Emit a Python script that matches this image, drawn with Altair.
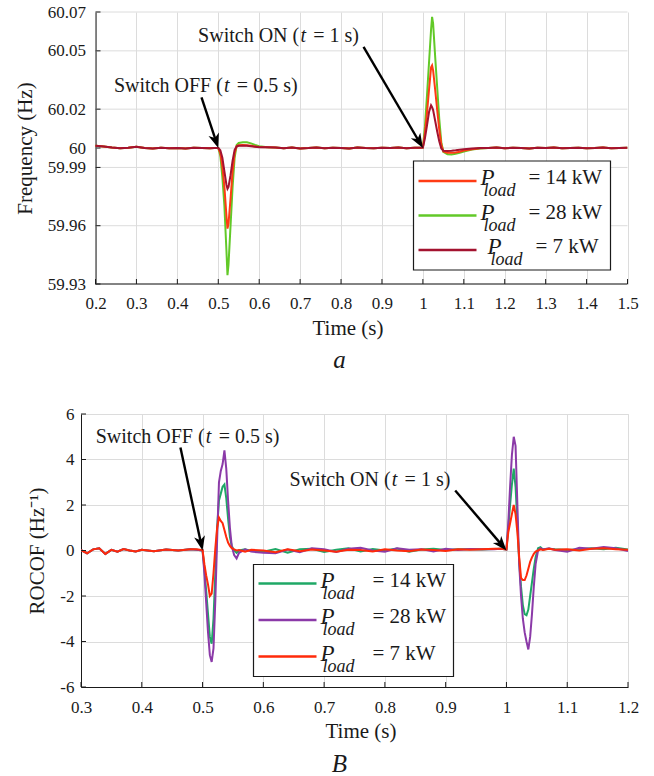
import math
import altair as alt
import pandas as pd

FONT = "Liberation Serif"
INK = "#1a1a1a"
GRID = "#dcdcdc"

# ---------------- panel a : frequency (Hz) ----------------
a_xticks = [0.2, 0.3, 0.4, 0.5, 0.6, 0.7, 0.8, 0.9, 1.0, 1.1, 1.2, 1.3, 1.4, 1.5]
a_yticks = [59.93, 59.96, 59.99, 60.0, 60.02, 60.05, 60.07]
a_loads = [14, 28, 7]
a_colors = ["#ff3b14", "#62c928", "#a3122f"]
a_draw_order = [28, 14, 7]

a_t_pre = [0.20, 0.22, 0.24, 0.26, 0.28, 0.30, 0.32, 0.34, 0.36, 0.38, 0.40, 0.42, 0.44, 0.46, 0.48]
a_f_pre = [60.0012, 60.0008, 60.0002, 59.9999, 60.0001, 60.0006, 60.0000, 59.9998, 60.0001, 59.9999,
           60.0000, 59.9998, 60.0001, 60.0000, 59.9999]
a_t_off = [0.49, 0.50, 0.505, 0.51, 0.515, 0.52, 0.5225, 0.525, 0.53, 0.535, 0.54, 0.545, 0.55, 0.56,
           0.57, 0.58, 0.59, 0.60]
a_f14_off = [60.0000, 60.0000, 59.9975, 59.9905, 59.9800, 59.9650, 59.9585, 59.9610, 59.9740, 59.9880,
             59.9975, 60.0010, 60.0014, 60.0015, 60.0014, 60.0011, 60.0008, 60.0005]
a_f28_off = [60.0000, 60.0000, 59.9960, 59.9850, 59.9700, 59.9470, 59.9345, 59.9400, 59.9600, 59.9800,
             59.9950, 60.0015, 60.0026, 60.0030, 60.0029, 60.0024, 60.0016, 60.0009]
a_f7_off = [60.0000, 60.0000, 59.9988, 59.9950, 59.9880, 59.9810, 59.9790, 59.9800, 59.9860, 59.9935,
            59.9990, 60.0008, 60.0011, 60.0012, 60.0011, 60.0009, 60.0007, 60.0004]
a_t_mid = [0.62, 0.64, 0.66, 0.68, 0.70, 0.72, 0.74, 0.76, 0.78, 0.80, 0.82, 0.84, 0.86, 0.88, 0.90,
           0.92, 0.94, 0.96, 0.98]
a_f_mid = [60.0004, 60.0002, 59.9999, 60.0002, 59.9998, 60.0000, 60.0003, 59.9999, 60.0001, 60.0000,
           59.9998, 60.0002, 60.0000, 59.9999, 60.0001, 60.0000, 60.0002, 59.9999, 60.0001]
a_t_on = [0.99, 1.00, 1.005, 1.01, 1.015, 1.02, 1.0225, 1.025, 1.03, 1.035, 1.04, 1.045, 1.05, 1.06,
          1.07, 1.08, 1.09, 1.10, 1.12, 1.14]
a_f14_on = [60.0001, 60.0002, 60.0075, 60.0180, 60.0300, 60.0415, 60.0425, 60.0400, 60.0300, 60.0195,
            60.0095, 60.0018, 59.9982, 59.9975, 59.9975, 59.9977, 59.9981, 59.9987, 59.9994, 59.9999]
a_f28_on = [60.0001, 60.0002, 60.0110, 60.0270, 60.0440, 60.0610, 60.0675, 60.0640, 60.0470, 60.0310,
            60.0150, 60.0030, 59.9980, 59.9968, 59.9967, 59.9970, 59.9975, 59.9982, 59.9992, 59.9998]
a_f7_on = [60.0001, 60.0002, 60.0050, 60.0115, 60.0185, 60.0220, 60.0210, 60.0195, 60.0140, 60.0085,
           60.0035, 59.9998, 59.9986, 59.9985, 59.9986, 59.9988, 59.9991, 59.9994, 59.9997, 60.0000]
a_t_post = [1.16, 1.18, 1.20, 1.22, 1.24, 1.26, 1.28, 1.30, 1.32, 1.34, 1.36, 1.38, 1.40, 1.42, 1.44,
            1.46, 1.48, 1.50]
a_f_post = [60.0000, 60.0002, 59.9999, 60.0001, 60.0000, 59.9998, 60.0001, 60.0000, 60.0002, 59.9999,
            60.0000, 60.0001, 59.9999, 60.0000, 60.0002, 59.9999, 60.0000, 60.0001]

# annotations (data coords): arrow start, arrow tip, label anchor (italic t)
a_arrow_x = [0.459, 0.855]
a_arrow_y = [60.026, 60.052]
a_tip_x = [0.5, 1.0]
a_tip_y = [60.0, 60.0]
a_ann_x = [0.521, 0.7075]
a_ann_y = [60.032, 60.0576]
a_ann_pre = ["Switch OFF (", "Switch ON ("]
a_ann_post = ["= 0.5 s)", "= 1 s)"]

# ---------------- panel B : ROCOF ----------------
b_xticks = [0.3, 0.4, 0.5, 0.6, 0.7, 0.8, 0.9, 1.0, 1.1, 1.2]
b_yticks = [-6, -4, -2, 0, 2, 4, 6]
b_loads = [14, 28, 7]
b_colors = ["#1fa866", "#8b3aa8", "#ff2a0a"]
b_draw_order = [14, 28, 7]

b_t_pre = [0.30, 0.31, 0.32, 0.33, 0.34, 0.35, 0.36, 0.37, 0.38, 0.39, 0.40, 0.42, 0.44, 0.46, 0.48]
b_r_pre = [0.02, -0.12, 0.05, 0.10, -0.15, 0.03, -0.05, 0.06, 0.00, -0.04, 0.03, -0.03, 0.04, 0.00, 0.05]
b_t_off = [0.49, 0.50, 0.503, 0.506, 0.509, 0.512, 0.515, 0.518, 0.521, 0.524, 0.527, 0.530, 0.533,
           0.536, 0.539, 0.542, 0.545, 0.548, 0.552, 0.556, 0.56, 0.57, 0.58]
b_r7_off = [0.05, 0.02, -0.6, -1.1, -1.5, -2.0, -1.9, -1.0, 0.1, 1.0, 1.45, 1.3, 1.2, 0.9, 0.6, 0.35,
            0.2, 0.1, 0.05, 0.0, 0.02, -0.05, 0.03]
b_r14_off = [0.03, 0.0, -0.8, -1.8, -2.8, -3.8, -4.1, -3.0, -1.0, 1.0, 2.2, 2.5, 2.8, 2.9, 2.3, 1.4,
             0.6, 0.2, 0.0, -0.1, 0.0, 0.05, -0.02]
b_r28_off = [0.03, 0.0, -1.0, -2.3, -3.6, -4.6, -4.9, -4.3, -2.2, 0.5, 3.0, 3.5, 3.8, 4.4, 3.6, 2.2,
             1.0, 0.2, -0.2, -0.35, -0.1, 0.05, -0.05]
b_t_mid = [0.60, 0.62, 0.64, 0.66, 0.68, 0.70, 0.72, 0.74, 0.76, 0.78, 0.80, 0.82, 0.84, 0.86, 0.88,
           0.90, 0.92, 0.94, 0.96, 0.98]
b_r7_mid = [0.0, -0.08, 0.05, -0.03, 0.04, 0.0, -0.05, 0.03, 0.02, -0.04, 0.05, 0.0, -0.03, 0.04, 0.02,
            -0.02, 0.05, 0.03, 0.06, 0.08]
b_r14_mid = [-0.05, 0.06, -0.10, 0.05, 0.08, -0.06, 0.03, 0.10, -0.04, 0.07, 0.0, 0.09, -0.05, 0.04,
             0.08, 0.02, 0.06, 0.05, 0.04, 0.07]
b_r28_mid = [-0.10, -0.12, 0.04, -0.08, 0.10, 0.05, -0.06, 0.08, 0.12, 0.0, -0.05, 0.10, 0.03, 0.06,
             -0.04, 0.08, 0.02, 0.07, 0.05, 0.06]
b_t_on = [0.99, 1.00, 1.003, 1.006, 1.009, 1.012, 1.015, 1.018, 1.021, 1.024, 1.027, 1.030, 1.033,
          1.036, 1.039, 1.042, 1.045, 1.048, 1.052, 1.056, 1.06, 1.07, 1.08]
b_r7_on = [0.08, 0.05, 0.8, 1.2, 1.6, 2.0, 1.6, 0.8, -0.3, -1.2, -1.3, -1.3, -1.1, -0.8, -0.5, -0.3,
           -0.15, -0.05, 0.0, 0.05, 0.02, 0.08, 0.03]
b_r14_on = [0.08, 0.05, 1.0, 2.0, 2.9, 3.6, 2.8, 1.2, -0.5, -1.6, -2.4, -2.8, -2.85, -2.6, -2.0, -1.4,
            -0.8, -0.3, 0.1, 0.15, 0.05, 0.08, 0.05]
b_r28_on = [0.08, 0.05, 1.2, 2.8, 4.2, 5.0, 4.6, 2.0, -0.6, -2.0, -3.0, -3.6, -4.0, -4.35, -3.8, -2.8,
            -1.6, -0.6, 0.0, 0.1, 0.05, 0.10, 0.02]
b_t_post = [1.10, 1.12, 1.14, 1.16, 1.18, 1.20]
b_r7_post = [0.05, 0.0, 0.08, 0.10, 0.06, 0.03]
b_r14_post = [0.02, 0.06, 0.10, 0.05, 0.12, 0.04]
b_r28_post = [-0.05, 0.12, 0.08, 0.15, 0.10, -0.02]

b_arrow_x = [0.4636, 0.9157]
b_arrow_y = [4.53, 2.64]
b_tip_x = [0.5, 1.0]
b_tip_y = [0.0, 0.0]
b_ann_x = [0.510, 0.816]
b_ann_y = [5.01, 3.12]
b_ann_pre = ["Switch OFF (", "Switch ON ("]
b_ann_post = ["= 0.5 s)", "= 1 s)"]

# ---------------- tables ----------------
def table(parts):
    rows = []
    for load, segs in parts.items():
        for ts, vs in segs:
            for t, v in zip(ts, vs):
                rows.append({"t": t, "v": v, "load": load})
    return pd.DataFrame(rows)

df_a = table({
    14: [(a_t_pre, a_f_pre), (a_t_off, a_f14_off), (a_t_mid, a_f_mid), (a_t_on, a_f14_on), (a_t_post, a_f_post)],
    28: [(a_t_pre, a_f_pre), (a_t_off, a_f28_off), (a_t_mid, a_f_mid), (a_t_on, a_f28_on), (a_t_post, a_f_post)],
    7: [(a_t_pre, a_f_pre), (a_t_off, a_f7_off), (a_t_mid, a_f_mid), (a_t_on, a_f7_on), (a_t_post, a_f_post)],
})
df_b = table({
    14: [(b_t_pre, b_r_pre), (b_t_off, b_r14_off), (b_t_mid, b_r14_mid), (b_t_on, b_r14_on), (b_t_post, b_r14_post)],
    28: [(b_t_pre, b_r_pre), (b_t_off, b_r28_off), (b_t_mid, b_r28_mid), (b_t_on, b_r28_on), (b_t_post, b_r28_post)],
    7: [(b_t_pre, b_r_pre), (b_t_off, b_r7_off), (b_t_mid, b_r7_mid), (b_t_on, b_r7_on), (b_t_post, b_r7_post)],
})

one = pd.DataFrame({"k": [0]})


def txt(s, x, y, size, italic=False, align="left"):
    return alt.Chart(one).mark_text(
        text=s, font=FONT, fontSize=size, fontStyle="italic" if italic else "normal",
        align=align, baseline="middle", color=INK,
    ).encode(x=alt.value(x), y=alt.value(y))


def panel(P):
    off = P["off"]            # extra room left of the visible plot (px)
    Wv, H = P["Wv"], P["H"]
    W = Wv + off
    d0 = P["x0"] - off / Wv * (P["x1"] - P["x0"])
    xs = alt.Scale(domain=[d0, P["x1"]], nice=False, zero=False)
    ys = alt.Scale(domain=[P["y0"], P["y1"]], nice=False, zero=False)
    fake = off > 0
    xaxis = alt.Axis(
        values=P["xticks"], labelExpr="'' + datum.value", title="Time (s)", grid=True,
        gridColor=GRID, gridWidth=1, ticks=False, labelPadding=P["xlabpad"], labelOverlap=False,
        labelFlush=False, labelFont=FONT, labelFontSize=17, labelColor=INK, titleFont=FONT,
        titleFontSize=21, titleFontWeight="normal", titleColor=INK, titleX=P["xtitle_x"] + off,
        titleY=44, titleBaseline="middle", titleAlign="center", domain=not fake,
        domainColor=INK, domainWidth=1,
    )
    yaxis = alt.Axis(
        values=P["yticks"], labelExpr="'' + datum.value", title=P["ytitle"], grid=not fake,
        gridColor=GRID, gridWidth=1, ticks=False, labelPadding=P["ylabpad"], labelOverlap=False,
        labelFlush=False, labelFont=FONT, labelFontSize=17, labelColor=INK, titleFont=FONT,
        titleFontSize=21, titleFontWeight="normal", titleColor=INK, titleX=P["ytitle_x"],
        titleY=H / 2, titleAngle=270, titleBaseline="middle", titleAlign="center",
        domainColor=INK, domainWidth=1, offset=-off,
    )

    def X(field):
        return alt.X(field, scale=xs, axis=xaxis)

    def Y(field):
        return alt.Y(field, scale=ys, axis=yaxis)

    def to_px(t, v):
        return ((t - d0) / (P["x1"] - d0) * W, (P["y1"] - v) / (P["y1"] - P["y0"]) * H)

    def to_data(px, py):
        return (d0 + px / W * (P["x1"] - d0), P["y1"] - py / H * (P["y1"] - P["y0"]))

    layers = []
    if fake:
        gdf = pd.DataFrame({"v": P["yticks"]})
        gdf["a"] = P["x0"]
        gdf["b"] = P["x1"]
        layers.append(alt.Chart(gdf).mark_rule(color=GRID, strokeWidth=1)
                      .encode(x=X("a:Q"), x2="b:Q", y=Y("v:Q")))
        ddf = pd.DataFrame({"a": [P["x0"]], "b": [P["x1"]], "v": [P["y0"]]})
        layers.append(alt.Chart(ddf).mark_rule(color=INK, strokeWidth=1)
                      .encode(x=X("a:Q"), x2="b:Q", y=Y("v:Q")))

    df = P["df"]
    color_of = dict(zip(P["loads"], P["colors"]))
    for load in P["order"]:
        layers.append(
            alt.Chart(df[df["load"] == load]).mark_line(color=color_of[load], strokeWidth=2, clip=True)
            .encode(x=X("t:Q"), y=Y("v:Q"))
        )
    # inward tick marks
    layers.append(
        alt.Chart(pd.DataFrame({"t": P["xticks"]})).mark_rule(color=INK, strokeWidth=1)
        .encode(x=X("t:Q"), y=alt.value(H), y2=alt.value(H - 5))
    )
    layers.append(
        alt.Chart(pd.DataFrame({"v": P["yticks"]})).mark_rule(color=INK, strokeWidth=1)
        .encode(y=Y("v:Q"), x=alt.value(off), x2=alt.value(off + 5))
    )

    # arrows
    rows = []
    for xs0, ys0, xt, yt in zip(P["arrow_x"], P["arrow_y"], P["tip_x"], P["tip_y"]):
        sx, sy = to_px(xs0, ys0)
        tx, ty = to_px(xt, yt)
        L = math.hypot(tx - sx, ty - sy)
        ux, uy = (tx - sx) / L, (ty - sy) / L
        ex, ey = to_data(tx - ux * 9, ty - uy * 9)
        ang = math.degrees(math.atan2(ux, -uy)) % 360
        rows.append({"t": xs0, "v": ys0, "ex": ex, "ey": ey, "tx": xt, "ty": yt, "ang": ang})
    adf = pd.DataFrame(rows)
    layers.append(
        alt.Chart(adf).mark_rule(color="black", strokeWidth=2.4)
        .encode(x=X("t:Q"), y=Y("v:Q"), x2="ex:Q", y2="ey:Q")
    )
    layers.append(
        alt.Chart(adf).mark_point(shape="M0,0 L0.55,1.45 L0,1.05 L-0.55,1.45 Z", filled=True,
                                  color="black", opacity=1, size=400, strokeWidth=0)
        .encode(x=X("tx:Q"), y=Y("ty:Q"), angle=alt.Angle("ang:Q", scale=None))
    )
    # annotation texts
    ndf = pd.DataFrame({"t": P["ann_x"], "v": P["ann_y"], "pre": P["ann_pre"], "post": P["ann_post"]})
    base = alt.Chart(ndf).encode(x=X("t:Q"), y=Y("v:Q"))
    layers.append(base.mark_text(font=FONT, fontSize=20, align="right", baseline="middle", dx=-4,
                                 color=INK).encode(text="pre:N"))
    layers.append(base.mark_text(font=FONT, fontSize=20, fontStyle="italic", align="center",
                                 baseline="middle", color=INK, text="t"))
    layers.append(base.mark_text(font=FONT, fontSize=20, align="left", baseline="middle", dx=10,
                                 color=INK).encode(text="post:N"))

    # legend
    lg = P["legend"]
    layers.append(
        alt.Chart(one).mark_rect(fill="white", stroke=INK, strokeWidth=1.2)
        .encode(x=alt.value(lg["box"][0] + off), x2=alt.value(lg["box"][1] + off),
                y=alt.value(lg["box"][2]), y2=alt.value(lg["box"][3]))
    )
    for i, load in enumerate(P["loads"]):
        y = lg["y0"] + i * lg["dy"]
        s = lg["shift"][i] + off
        layers.append(
            alt.Chart(one).mark_rule(color=P["colors"][i], strokeWidth=2.5)
            .encode(x=alt.value(lg["line"][0] + off), x2=alt.value(lg["line"][1] + off), y=alt.value(y))
        )
        layers.append(txt("P", lg["px"] + s, y - 3, 23, italic=True))
        layers.append(txt("load", lg["lx"] + s, y + 10, 18, italic=True))
        layers.append(txt("= %d kW" % load, lg["ex"] + s, y - 3, 21))

    # caption
    layers.append(txt(P["caption"], P["cap_x"] + off, P["cap_y"], 25, italic=True, align="center"))
    # layout bound helper (invisible)
    by0, by1 = P["bound"]
    layers.append(
        alt.Chart(one).mark_rule(opacity=0, strokeWidth=1)
        .encode(x=alt.value(-80), y=alt.value(by0), y2=alt.value(by1))
    )
    ch = alt.layer(*layers).properties(width=W, height=H)
    if fake:
        ch = ch.properties(view=alt.ViewBackground(strokeOpacity=0))
    return ch


PA = dict(
    off=14.5, Wv=532, H=272, x0=0.2, x1=1.5, y0=59.93, y1=60.07, xticks=a_xticks, yticks=a_yticks,
    ytitle="Frequency (Hz)", ytitle_x=-70, ylabpad=10, xlabpad=11, xtitle_x=252,
    df=df_a, loads=a_loads, colors=a_colors, order=a_draw_order,
    arrow_x=a_arrow_x, arrow_y=a_arrow_y, tip_x=a_tip_x, tip_y=a_tip_y,
    ann_x=a_ann_x, ann_y=a_ann_y, ann_pre=a_ann_pre, ann_post=a_ann_post,
    legend=dict(box=(318, 515, 149, 258), line=(323, 381), y0=169, dy=34.5, shift=[0, 0, 7],
                px=385, lx=388, ex=433),
    caption="a", cap_x=244, cap_y=348, bound=(-11.5, 380.5),
)
PB = dict(
    off=0, Wv=547, H=273, x0=0.3, x1=1.2, y0=-6, y1=6, xticks=b_xticks, yticks=b_yticks,
    ytitle="ROCOF (Hz⁻¹)", ytitle_x=-43.5, ylabpad=7, xlabpad=12, xtitle_x=279.5,
    df=df_b, loads=b_loads, colors=b_colors, order=b_draw_order,
    arrow_x=b_arrow_x, arrow_y=b_arrow_y, tip_x=b_tip_x, tip_y=b_tip_y,
    ann_x=b_ann_x, ann_y=b_ann_y, ann_pre=b_ann_pre, ann_post=b_ann_post,
    legend=dict(box=(172.5, 372.5, 150.5, 262.5), line=(177.5, 235.5), y0=169.5, dy=36.5,
                shift=[0, 0, 0], px=239.5, lx=241.5, ex=291.5),
    caption="B", cap_x=258.5, cap_y=349.5, bound=(-20, 0),
)

chart = (
    alt.vconcat(panel(PA), panel(PB), spacing=0)
    .properties(padding=0, background="white")
    .configure_view(stroke=GRID, strokeWidth=1)
)
chart.save("out.html", embed_options={"renderer": "svg", "actions": False})
